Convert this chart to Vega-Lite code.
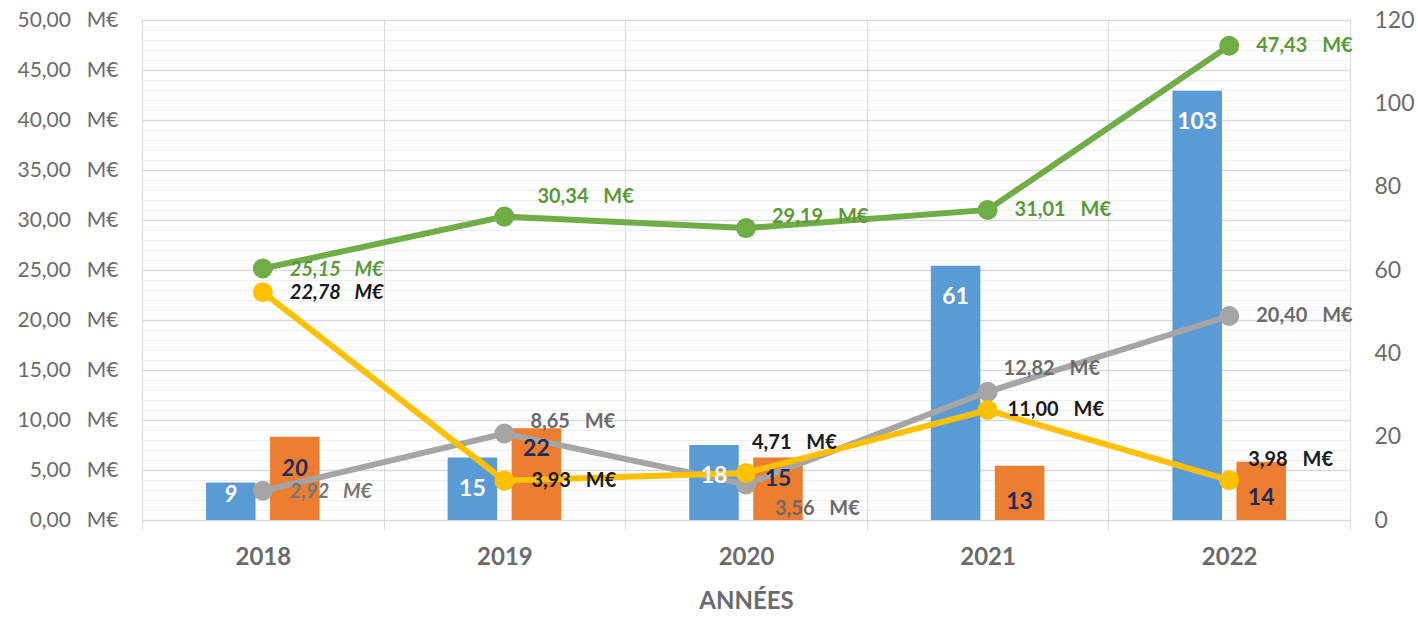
{
  "$schema": "https://vega.github.io/schema/vega-lite/v6.json",
  "width": 1208,
  "height": 500,
  "autosize": {"type": "none"},
  "padding": {"left": 142, "top": 20, "right": 68, "bottom": 97},
  "background": "white",
  "config": {
    "font": "Lato",
    "view": {"stroke": "#d9d9d9", "strokeWidth": 1}
  },
  "datasets": {
    "bars": [
      {"annee": "2018", "serie": "Nombre 1", "nombre": 9},
      {"annee": "2018", "serie": "Nombre 2", "nombre": 20},
      {"annee": "2019", "serie": "Nombre 1", "nombre": 15},
      {"annee": "2019", "serie": "Nombre 2", "nombre": 22},
      {"annee": "2020", "serie": "Nombre 1", "nombre": 18},
      {"annee": "2020", "serie": "Nombre 2", "nombre": 15},
      {"annee": "2021", "serie": "Nombre 1", "nombre": 61},
      {"annee": "2021", "serie": "Nombre 2", "nombre": 13},
      {"annee": "2022", "serie": "Nombre 1", "nombre": 103},
      {"annee": "2022", "serie": "Nombre 2", "nombre": 14}
    ],
    "lines": [
      {"annee": "2018", "serie": "Montant gris", "montant": 2.92},
      {"annee": "2019", "serie": "Montant gris", "montant": 8.65},
      {"annee": "2020", "serie": "Montant gris", "montant": 3.56},
      {"annee": "2021", "serie": "Montant gris", "montant": 12.82},
      {"annee": "2022", "serie": "Montant gris", "montant": 20.40},
      {"annee": "2018", "serie": "Montant jaune", "montant": 22.78},
      {"annee": "2019", "serie": "Montant jaune", "montant": 3.93},
      {"annee": "2020", "serie": "Montant jaune", "montant": 4.71},
      {"annee": "2021", "serie": "Montant jaune", "montant": 11.00},
      {"annee": "2022", "serie": "Montant jaune", "montant": 3.98},
      {"annee": "2018", "serie": "Montant vert", "montant": 25.15},
      {"annee": "2019", "serie": "Montant vert", "montant": 30.34},
      {"annee": "2020", "serie": "Montant vert", "montant": 29.19},
      {"annee": "2021", "serie": "Montant vert", "montant": 31.01},
      {"annee": "2022", "serie": "Montant vert", "montant": 47.43}
    ]
  },
  "encoding": {
    "x": {
      "field": "annee",
      "type": "ordinal",
      "scale": {"paddingInner": 0, "paddingOuter": 0},
      "axis": {
        "title": "ANNÉES",
        "tickBand": "extent",
        "grid": true,
        "gridColor": "#d9d9d9",
        "domainColor": "#d9d9d9",
        "tickColor": "#d9d9d9",
        "tickSize": 10,
        "labelAngle": 0,
        "labelFontSize": 24,
        "labelFontWeight": "bold",
        "labelColor": "#6b6b6b",
        "labelPadding": 15,
        "titleFontSize": 24,
        "titleFontWeight": "bold",
        "titleColor": "#6b6b6b",
        "titlePadding": 20
      }
    }
  },
  "layer": [
    {
      "data": {"name": "bars"},
      "layer": [
        {
          "mark": {"type": "bar"},
          "encoding": {
            "xOffset": {"field": "serie", "type": "nominal", "scale": {"paddingInner": 0.226, "paddingOuter": 1.06}},
            "y": {
              "field": "nombre",
              "type": "quantitative",
              "scale": {"domain": [0, 120]},
              "axis": {
                "orient": "right",
                "values": [0, 20, 40, 60, 80, 100, 120],
                "grid": false,
                "ticks": false,
                "domain": false,
                "labelFontSize": 23,
                "labelColor": "#6b6b6b",
                "labelPadding": 24,
                "title": null
              }
            },
            "color": {
              "field": "serie",
              "type": "nominal",
              "scale": {
                "domain": ["Nombre 1", "Nombre 2", "Montant gris", "Montant jaune", "Montant vert"],
                "range": ["#5B9BD5", "#ED7D31", "#A5A5A5", "#FFC000", "#70AD47"]
              },
              "legend": null
            }
          }
        }
      ]
    },
    {
      "data": {"name": "lines"},
      "transform": [
        {"calculate": "replace(format(datum.montant, '.2f'), '.', ',') + '\u2002\u00a0M€'", "as": "etiquette"}
      ],
      "encoding": {
        "y": {
          "field": "montant",
          "type": "quantitative",
          "scale": {"domain": [0, 50]},
          "axis": {
            "orient": "left",
            "values": [0,1,2,3,4,5,6,7,8,9,10,11,12,13,14,15,16,17,18,19,20,21,22,23,24,25,26,27,28,29,30,31,32,33,34,35,36,37,38,39,40,41,42,43,44,45,46,47,48,49,50],
            "grid": true,
            "gridColor": {"condition": {"test": "datum.value % 5 === 0", "value": "#d9d9d9"}, "value": "#eeeeee"},
            "gridWidth": {"condition": {"test": "datum.value % 5 === 0", "value": 1.5}, "value": 1},
            "ticks": false,
            "domain": false,
            "labelExpr": "datum.value % 5 === 0 ? replace(format(datum.value, '.2f'), '.', ',') + '\u2002\u00a0M€' : ''",
            "labelFontSize": 21,
            "labelColor": "#6b6b6b",
            "labelPadding": 24,
            "labelOverlap": false,
            "labelBound": false,
            "title": null
          }
        }
      },
      "layer": [
        {
          "mark": {"type": "line", "strokeWidth": 6},
          "encoding": {
            "color": {
              "field": "serie",
              "type": "nominal",
              "scale": {
                "domain": ["Nombre 1", "Nombre 2", "Montant gris", "Montant jaune", "Montant vert"],
                "range": ["#5B9BD5", "#ED7D31", "#A5A5A5", "#FFC000", "#70AD47"]
              },
              "legend": null
            }
          }
        },
        {
          "mark": {"type": "point", "filled": true, "size": 400, "opacity": 1, "shape": "circle"},
          "encoding": {
            "color": {"field": "serie", "type": "nominal", "legend": null}
          }
        },
        {
          "transform": [{"filter": "datum.serie === 'Montant vert' && (datum.annee === '2021' || datum.annee === '2022')"}],
          "mark": {"type": "text", "align": "left", "baseline": "middle", "dx": 27, "dy": 0, "fontSize": 20, "fontWeight": "bold", "color": "#5A9A38"},
          "encoding": {"text": {"field": "etiquette"}}
        },
        {
          "transform": [{"filter": "datum.serie === 'Montant vert' && datum.annee === '2018'"}],
          "mark": {"type": "text", "align": "left", "baseline": "middle", "dx": 27, "dy": 1, "fontSize": 20, "fontWeight": "bold", "fontStyle": "italic", "color": "#5A9A38"},
          "encoding": {"text": {"field": "etiquette"}}
        },
        {
          "transform": [{"filter": "datum.serie === 'Montant vert' && datum.annee === '2019'"}],
          "mark": {"type": "text", "align": "left", "baseline": "middle", "dx": 33, "dy": -20, "fontSize": 20, "fontWeight": "bold", "color": "#5A9A38"},
          "encoding": {"text": {"field": "etiquette"}}
        },
        {
          "transform": [{"filter": "datum.serie === 'Montant vert' && datum.annee === '2020'"}],
          "mark": {"type": "text", "align": "left", "baseline": "middle", "dx": 26, "dy": -11, "fontSize": 20, "fontWeight": "bold", "color": "#5A9A38"},
          "encoding": {"text": {"field": "etiquette"}}
        },
        {
          "transform": [{"filter": "datum.serie === 'Montant jaune' && datum.annee === '2018'"}],
          "mark": {"type": "text", "align": "left", "baseline": "middle", "dx": 27, "dy": 1, "fontSize": 20, "fontWeight": "bold", "fontStyle": "italic", "color": "#1a1a1a"},
          "encoding": {"text": {"field": "etiquette"}}
        },
        {
          "transform": [{"filter": "datum.serie === 'Montant jaune' && datum.annee === '2019'"}],
          "mark": {"type": "text", "align": "left", "baseline": "middle", "dx": 27, "dy": 0, "fontSize": 20, "fontWeight": "bold", "color": "#1a1a1a"},
          "encoding": {"text": {"field": "etiquette"}}
        },
        {
          "transform": [{"filter": "datum.serie === 'Montant jaune' && datum.annee === '2020'"}],
          "mark": {"type": "text", "align": "left", "baseline": "middle", "dx": 6, "dy": -30, "fontSize": 20, "fontWeight": "bold", "color": "#1a1a1a"},
          "encoding": {"text": {"field": "etiquette"}}
        },
        {
          "transform": [{"filter": "datum.serie === 'Montant jaune' && datum.annee === '2021'"}],
          "mark": {"type": "text", "align": "left", "baseline": "middle", "dx": 20, "dy": 0, "fontSize": 20, "fontWeight": "bold", "color": "#1a1a1a"},
          "encoding": {"text": {"field": "etiquette"}}
        },
        {
          "transform": [{"filter": "datum.serie === 'Montant jaune' && datum.annee === '2022'"}],
          "mark": {"type": "text", "align": "left", "baseline": "middle", "dx": 19, "dy": -20, "fontSize": 20, "fontWeight": "bold", "color": "#1a1a1a"},
          "encoding": {"text": {"field": "etiquette"}}
        },
        {
          "transform": [{"filter": "datum.serie === 'Montant gris' && datum.annee === '2018'"}],
          "mark": {"type": "text", "align": "left", "baseline": "middle", "dx": 27, "dy": 1, "fontSize": 20, "fontWeight": "bold", "fontStyle": "italic", "color": "#767676"},
          "encoding": {"text": {"field": "etiquette"}}
        },
        {
          "transform": [{"filter": "datum.serie === 'Montant gris' && datum.annee === '2019'"}],
          "mark": {"type": "text", "align": "left", "baseline": "middle", "dx": 26, "dy": -12, "fontSize": 20, "fontWeight": "bold", "color": "#6b6b6b"},
          "encoding": {"text": {"field": "etiquette"}}
        },
        {
          "transform": [{"filter": "datum.serie === 'Montant gris' && datum.annee === '2020'"}],
          "mark": {"type": "text", "align": "left", "baseline": "middle", "dx": 29, "dy": 25, "fontSize": 20, "fontWeight": "bold", "color": "#6b6b6b"},
          "encoding": {"text": {"field": "etiquette"}}
        },
        {
          "transform": [{"filter": "datum.serie === 'Montant gris' && datum.annee === '2021'"}],
          "mark": {"type": "text", "align": "left", "baseline": "middle", "dx": 16, "dy": -23, "fontSize": 20, "fontWeight": "bold", "color": "#6b6b6b"},
          "encoding": {"text": {"field": "etiquette"}}
        },
        {
          "transform": [{"filter": "datum.serie === 'Montant gris' && datum.annee === '2022'"}],
          "mark": {"type": "text", "align": "left", "baseline": "middle", "dx": 27, "dy": 0, "fontSize": 20, "fontWeight": "bold", "color": "#6b6b6b"},
          "encoding": {"text": {"field": "etiquette"}}
        }
      ]
    },
    {
      "data": {"name": "bars"},
      "encoding": {
        "xOffset": {"field": "serie", "type": "nominal", "scale": {"paddingInner": 0.226, "paddingOuter": 1.06}},
        "y": {"field": "nombre", "type": "quantitative", "scale": {"domain": [0, 120]}, "axis": null},
        "text": {"field": "nombre", "type": "quantitative", "format": "d"}
      },
      "layer": [
        {
          "transform": [{"filter": "datum.serie === 'Nombre 1' && datum.annee !== '2018'"}],
          "mark": {"type": "text", "align": "center", "baseline": "middle", "dy": 31, "fontSize": 23, "fontWeight": "bold", "color": "white"}
        },
        {
          "transform": [{"filter": "datum.serie === 'Nombre 1' && datum.annee === '2018'"}],
          "mark": {"type": "text", "align": "center", "baseline": "middle", "dy": 12, "fontSize": 23, "fontWeight": "bold", "fontStyle": "italic", "color": "white"}
        },
        {
          "transform": [{"filter": "datum.serie === 'Nombre 2' && datum.annee === '2018'"}],
          "mark": {"type": "text", "align": "center", "baseline": "middle", "dy": 32, "fontSize": 23, "fontWeight": "bold", "fontStyle": "italic", "color": "#1F2D5A"}
        },
        {
          "transform": [{"filter": "datum.serie === 'Nombre 2' && (datum.annee === '2019' || datum.annee === '2020')"}],
          "mark": {"type": "text", "align": "center", "baseline": "middle", "dy": 21, "fontSize": 23, "fontWeight": "bold", "color": "#1F2D5A"}
        },
        {
          "transform": [{"filter": "datum.serie === 'Nombre 2' && (datum.annee === '2021' || datum.annee === '2022')"}],
          "mark": {"type": "text", "align": "center", "baseline": "middle", "dy": 36, "fontSize": 23, "fontWeight": "bold", "color": "#1F2D5A"}
        }
      ]
    }
  ],
  "resolve": {"scale": {"y": "independent"}}
}
